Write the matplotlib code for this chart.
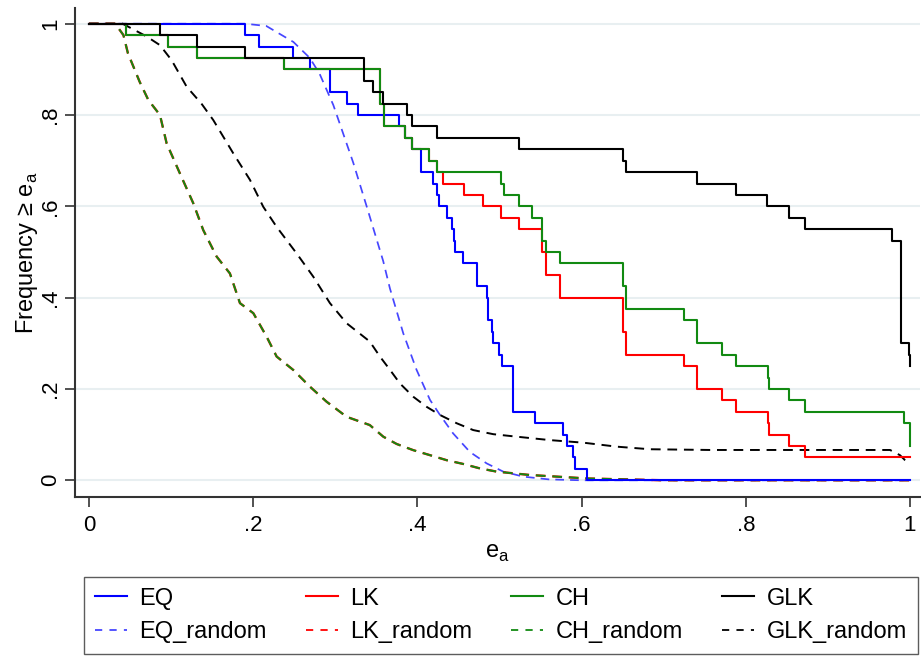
import matplotlib
matplotlib.use('Agg')
import matplotlib.pyplot as plt
from matplotlib.lines import Line2D

plt.rcParams['font.family'] = ['Liberation Sans', 'DejaVu Sans']
plt.rcParams['mathtext.fontset'] = 'custom'
plt.rcParams['mathtext.rm'] = 'Liberation Sans'

# ---------------- data ----------------
# step curves: x where the level changes, and the level after it
eq_x = [0, 0.19, 0.2075, 0.249, 0.269, 0.294, 0.314, 0.328, 0.378, 0.385, 0.394,
        0.404, 0.4194, 0.4243, 0.4267, 0.4357, 0.4417, 0.4446, 0.4458, 0.456,
        0.473, 0.4845, 0.4865, 0.4904, 0.4924, 0.4994, 0.5035, 0.5169, 0.5432,
        0.5776, 0.5818, 0.59, 0.5915, 0.607, 1.0]
eq_y = [1, 0.975, 0.95, 0.925, 0.9, 0.85, 0.825, 0.8, 0.775, 0.75, 0.725,
        0.675, 0.65, 0.625, 0.6, 0.575, 0.55, 0.525, 0.5, 0.475,
        0.425, 0.4, 0.35, 0.325, 0.3, 0.275, 0.25, 0.15, 0.125,
        0.1, 0.075, 0.05, 0.025, 0, 0]

lk_x = [0, 0.045, 0.0966, 0.132, 0.237, 0.355, 0.359, 0.385, 0.394, 0.414,
        0.4243, 0.4316, 0.4567, 0.4802, 0.502, 0.524, 0.552, 0.557, 0.574,
        0.650, 0.654, 0.725, 0.741, 0.771, 0.788, 0.8266, 0.8282, 0.853,
        0.872, 1.0]
lk_y = [1, 0.975, 0.95, 0.925, 0.9, 0.825, 0.775, 0.75, 0.725, 0.7,
        0.675, 0.65, 0.625, 0.6, 0.575, 0.55, 0.5, 0.45, 0.4,
        0.325, 0.275, 0.25, 0.2, 0.175, 0.15, 0.125, 0.1, 0.075,
        0.05, 0.05]

ch_x = [0, 0.045, 0.0966, 0.132, 0.237, 0.355, 0.359, 0.385, 0.394, 0.414,
        0.4243, 0.502, 0.506, 0.524, 0.540, 0.552, 0.557, 0.574, 0.650,
        0.654, 0.725, 0.741, 0.771, 0.788, 0.8266, 0.8282, 0.853, 0.872,
        0.9927, 0.9995, 1.0]
ch_y = [1, 0.975, 0.95, 0.925, 0.9, 0.825, 0.775, 0.75, 0.725, 0.7,
        0.675, 0.65, 0.625, 0.6, 0.575, 0.525, 0.5, 0.475, 0.425,
        0.375, 0.35, 0.3, 0.275, 0.25, 0.225, 0.2, 0.175, 0.15,
        0.125, 0.1, 0.075]

glk_x = [0, 0.0865, 0.132, 0.19, 0.335, 0.346, 0.358, 0.387, 0.394, 0.4234,
         0.524, 0.650, 0.654, 0.741, 0.788, 0.826, 0.853, 0.872, 0.978,
         0.9887, 0.989, 0.9895, 0.9985, 1.0]
glk_y = [1, 0.975, 0.95, 0.925, 0.875, 0.85, 0.825, 0.8, 0.775, 0.75,
         0.725, 0.7, 0.675, 0.65, 0.625, 0.6, 0.575, 0.55, 0.525,
         0.475, 0.375, 0.3, 0.275, 0.25]

# random benchmark curves
eqr_x = [0, 0.19, 0.216, 0.249, 0.269, 0.281, 0.2976, 0.322, 0.3384, 0.3584,
         0.3666, 0.3828, 0.399, 0.4154, 0.4276, 0.4434, 0.464, 0.4844, 0.5046,
         0.529, 0.56, 0.6, 1.0]
eqr_y = [1, 1.0, 0.995, 0.96, 0.925, 0.89, 0.822, 0.695, 0.599, 0.48,
         0.42, 0.322, 0.242, 0.176, 0.143, 0.103, 0.062, 0.037, 0.019,
         0.008, 0.002, 0.0, 0.0]

chr_x = [0, 0.032, 0.042, 0.0475, 0.0617, 0.0723, 0.0865, 0.0946, 0.1108, 0.127,
         0.1392, 0.1555, 0.1717, 0.1839, 0.2002, 0.2164, 0.2286, 0.2489, 0.2692,
         0.2895, 0.3139, 0.342, 0.3585, 0.3748, 0.395, 0.4154, 0.4357, 0.456,
         0.4762, 0.4966, 0.5168, 0.537, 0.607, 0.7, 1.0]
chr_y = [1, 1.0, 0.975, 0.935, 0.873, 0.833, 0.80, 0.738, 0.672, 0.607,
         0.548, 0.49, 0.453, 0.388, 0.366, 0.3145, 0.271, 0.2416, 0.205,
         0.172, 0.139, 0.121, 0.0955, 0.0795, 0.066, 0.055, 0.044, 0.0357,
         0.026, 0.019, 0.0153, 0.0116, 0.004, 0.0, 0.0]
lkr_x = list(chr_x)
lkr_y = list(chr_y)

glkr_x = [0, 0.041, 0.0703, 0.0865, 0.1007, 0.119, 0.137, 0.1514, 0.1758, 0.1961,
          0.2123, 0.2286, 0.2529, 0.2732, 0.2935, 0.3138, 0.342, 0.3544, 0.3666,
          0.3788, 0.395, 0.4112, 0.4276, 0.4478, 0.468, 0.4924, 0.521, 0.5615,
          0.602, 0.6432, 0.6833, 0.7564, 0.9757, 0.9878, 0.994, 1.0]
glkr_y = [1, 1.0, 0.972, 0.953, 0.92, 0.862, 0.825, 0.789, 0.716, 0.658,
          0.599, 0.555, 0.497, 0.446, 0.388, 0.344, 0.304, 0.271, 0.242,
          0.212, 0.183, 0.161, 0.143, 0.125, 0.110, 0.101, 0.0955, 0.088,
          0.0824, 0.0736, 0.068, 0.0664, 0.0664, 0.055, 0.044, 0.0357]

xticks = [0, 0.2, 0.4, 0.6, 0.8, 1.0]
xticklabels = ['0', '.2', '.4', '.6', '.8', '1']
yticks = [0, 0.2, 0.4, 0.6, 0.8, 1.0]
yticklabels = ['0', '.2', '.4', '.6', '.8', '1']

# ---------------- figure ----------------
W, H = 921, 656
fig = plt.figure(figsize=(W / 100, H / 100), dpi=100)
ax = fig.add_axes([75 / W, 159 / H, (920 - 75) / W, (497 - 8) / H])

BLUE = '#0000ff'
BLUE_L = '#4646ff'
RED = '#ff0000'
GREEN = '#128a12'
BLACK = '#000000'
lw = 1.5
rlw = 1.4
dash = (5, 3.5)

ax.plot(eqr_x, eqr_y, color=BLUE_L, lw=1.25, dashes=dash)
# red drawn slightly wider underneath green, same dash lengths in points
ax.plot(lkr_x, lkr_y, color=RED, lw=1.7,
        dashes=(dash[0] * rlw / 1.7, dash[1] * rlw / 1.7))
ax.plot(chr_x, chr_y, color=GREEN, lw=rlw, dashes=dash)
ax.plot(glkr_x, glkr_y, color=BLACK, lw=rlw, dashes=dash)

ax.step(eq_x, eq_y, where='post', color=BLUE, lw=lw)
ax.step(lk_x, lk_y, where='post', color=RED, lw=lw)
ax.step(ch_x, ch_y, where='post', color=GREEN, lw=lw)
ax.step(glk_x, glk_y, where='post', color=BLACK, lw=lw)

ax.set_xlim(-0.017, 1.0122)
ax.set_ylim(-0.0366, 1.0344)

for s in ['top', 'right']:
    ax.spines[s].set_visible(False)
for s in ['left', 'bottom']:
    ax.spines[s].set_color('#333333')
    ax.spines[s].set_linewidth(1.5)

ax.set_xticks(xticks)
ax.set_xticklabels(xticklabels)
ax.set_yticks(yticks)
ax.set_yticklabels(yticklabels, rotation=90, va='center')
ax.tick_params(axis='both', length=7, width=1.2, color='#333333', labelsize=16)
ax.tick_params(axis='x', pad=6)
ax.tick_params(axis='y', pad=3)
ax.yaxis.grid(True, color='#e8eff1', lw=1.5)
ax.set_axisbelow(True)

ax.set_xlabel(r'e$_{\mathregular{a}}$', fontsize=17, labelpad=4)
ax.set_ylabel(r'Frequency ≥ e$_{\mathregular{a}}$', fontsize=17)
ax.yaxis.set_label_coords(-0.041, 0.5)

handles = [
    Line2D([], [], color=BLUE, lw=lw),
    Line2D([], [], color=BLUE_L, lw=1.3, dashes=(4, 4)),
    Line2D([], [], color=RED, lw=lw),
    Line2D([], [], color=RED, lw=1.3, dashes=(4, 4)),
    Line2D([], [], color=GREEN, lw=lw),
    Line2D([], [], color=GREEN, lw=1.3, dashes=(4, 4)),
    Line2D([], [], color=BLACK, lw=lw),
    Line2D([], [], color=BLACK, lw=1.3, dashes=(4, 4)),
]
labels = ['EQ', 'EQ_random', 'LK', 'LK_random', 'CH', 'CH_random', 'GLK', 'GLK_random']
leg = fig.legend(handles, labels, ncol=4, loc='upper left',
                 bbox_to_anchor=(84 / W, 1 - 577 / H, (918 - 84) / W, 0),
                 mode='expand', frameon=True, fancybox=False,
                 edgecolor='#333333', borderpad=0.45, handlelength=1.35,
                 handletextpad=0.55, labelspacing=0.5, borderaxespad=0,
                 fontsize=17)
leg.get_frame().set_linewidth(1.0)

fig.savefig('out.png', dpi=100)
